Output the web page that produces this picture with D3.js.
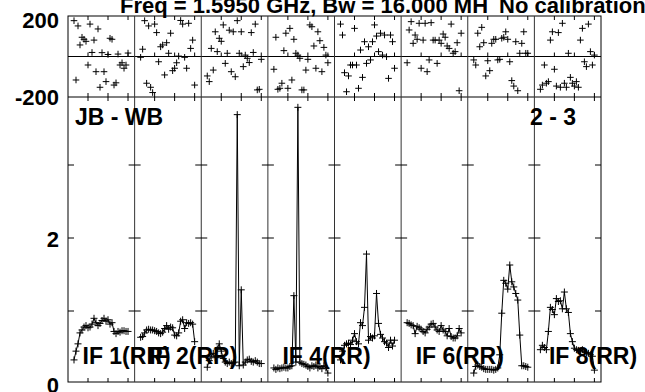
<!DOCTYPE html>
<html><head><meta charset="utf-8">
<script src="https://cdn.jsdelivr.net/npm/d3@7"></script>
<style>html,body{margin:0;padding:0;background:#fff;overflow:hidden}svg{display:block}</style>
</head><body><svg id="c" width="645" height="392"></svg>
<script>
// ---- data ----
const channels = [3,4,5,6,7,8,9,10,11,12,13,14,15,16,17,18,19,20,21,22,23,24,25,26,27,28,29,30];
const ifLabels = ["IF 1(RR)","IF 2(RR)","IF 3(RR)","IF 4(RR)","IF 5(RR)","IF 6(RR)","IF 7(RR)","IF 8(RR)"];
const ifLabelShown = [true,true,false,true,false,true,false,true];
const titleLeft = "Freq = 1.5950 GHz, Bw = 16.000 MH";
const titleRight = "No calibration";
const baselineLabel = "JB - WB";
const antennaLabel = "2 - 3";
const phaseTickLabels = [200, -200];
const ampTicks = [1, 2, 3];
const ampTickLabels = [0, 2];
const chanTicks = [10, 20, 30];

const phaseIF1 = [177,-116,151,57,95,85,75,-42,160,20,81,-75,136,-152,19,-75,-124,10,90,85,-141,-130,12,-42,-31,-58,-42,17];
const phaseIF2 = [-4,36,177,-132,151,-152,-178,160,118,-26,48,57,-91,68,16,115,-70,-58,-31,2,178,160,-4,-58,164,40,81,-141];
const phaseIF3 = [-96,-124,40,-67,122,24,90,75,156,-34,16,130,-75,122,-100,177,16,122,-50,7,-9,-30,118,20,160,-165,-162,-14];
const phaseIF4 = [-63,95,-162,-157,-132,29,115,-157,139,-116,85,16,7,-9,-165,-165,-67,-14,156,147,52,-58,122,78,-75,45,7,-31];
const phaseIF5 = [160,106,-80,-174,-96,-42,-42,139,-42,-157,32,-103,73,-34,48,-17,73,156,101,24,115,7,106,-1,-108,106,73,-58];
const phaseIF6 = [-31,131,172,65,106,85,164,-58,81,164,-75,-17,167,81,81,-34,81,65,111,95,52,40,160,16,24,68,-169,115];
const phaseIF7 = [-17,-42,115,48,144,68,-96,-21,-70,65,85,85,-17,-14,90,95,122,85,-26,-119,-146,73,-169,16,65,122,16,16];
const phaseIF8 = [-162,-141,-42,-132,-124,81,122,-63,-146,118,-152,164,-132,-152,16,-103,-132,-146,-124,-152,81,139,-26,-50,160,24,-42,7];

const ampIF1 = [0.33,0.45,0.55,0.70,0.74,0.78,0.80,0.77,0.78,0.82,0.90,0.84,0.80,0.83,0.87,0.90,0.86,0.88,0.82,0.84,0.72,0.69,0.72,0.71,0.73,0.73,0.72,0.72];
const ampIF2 = [0.64,0.65,0.70,0.74,0.75,0.74,0.74,0.73,0.72,0.70,0.69,0.71,0.76,0.80,0.75,0.78,0.77,0.67,0.66,0.70,0.86,0.88,0.76,0.84,0.83,0.84,0.82,0.58];
const ampIF3 = [0.23,0.32,0.38,0.42,0.36,0.48,0.55,0.45,0.35,0.30,0.28,0.30,0.28,0.29,0.30,3.69,0.25,1.29,0.26,0.30,0.33,0.34,0.31,0.30,0.32,0.30,0.28,0.28];
const ampIF4 = [0.22,0.20,0.22,0.21,0.22,0.23,0.22,0.22,0.24,0.25,1.21,0.30,3.79,0.30,0.28,0.27,0.26,0.24,0.22,0.25,0.24,0.26,0.22,0.24,0.21,0.25,0.22,0.15];
const ampIF5 = [0.33,0.45,0.53,0.55,0.56,0.54,0.60,0.69,0.58,0.55,0.84,0.80,1.05,1.78,0.60,0.65,0.63,0.66,1.24,0.83,0.68,0.63,0.58,0.56,0.50,0.60,0.52,0.60];
const ampIF6 = [0.84,0.83,0.81,0.80,0.69,0.79,0.77,0.75,0.72,0.70,0.75,0.78,0.82,0.83,0.78,0.74,0.72,0.80,0.74,0.72,0.66,0.76,0.65,0.63,0.63,0.66,0.76,0.70];
const ampIF7 = [0.15,0.24,0.26,0.24,0.23,0.21,0.20,0.20,0.20,0.20,0.19,0.20,0.22,0.40,0.97,1.42,1.38,1.30,1.63,1.40,1.33,1.24,1.15,0.67,0.25,0.25,0.24,0.23];
const ampIF8 = [0.47,0.53,0.50,0.47,0.72,1.05,1.02,0.95,1.17,1.13,1.14,1.03,1.26,1.03,0.98,0.69,0.58,0.49,0.47,0.46,0.45,0.47,0.44,0.43,0.42,0.40,0.38,0.19];

const phases = [phaseIF1,phaseIF2,phaseIF3,phaseIF4,phaseIF5,phaseIF6,phaseIF7,phaseIF8];
const amps = [ampIF1,ampIF2,ampIF3,ampIF4,ampIF5,ampIF6,ampIF7,ampIF8];

// ---- layout ----
const svg = d3.select("#c");
const L = 68, R = 601, T = 16, MID = 97, B = 382;
const FONT = "'Liberation Sans', Arial, Helvetica, sans-serif";
const panelX = d3.scaleLinear().domain([0, 8]).range([L, R]);
const phaseY = d3.scaleLinear().domain([-200, 200]).range([MID, T]);
const ampY = d3.scaleLinear().domain([0, 3]).range([384, 165]);
const chanX = i => d3.scaleLinear().domain([0, 33.3]).range([panelX(i), panelX(i + 1)]);

const g = svg.append("g");
const plus = (sel, pts, s) => {
  sel.selectAll(null).data(pts).join("path")
    .attr("d", d => `M${d[0]-s},${d[1]}H${d[0]+s}M${d[0]},${d[1]-s}V${d[1]+s}`)
    .attr("stroke", "#000").attr("stroke-width", 1).attr("fill", "none");
};

for (let i = 0; i < 8; i++) {
  const x = chanX(i);
  const pg = g.append("g");
  const pp = phases[i].map((v, k) => [x(channels[k]), phaseY(v)]);
  plus(pg, pp, 3.3);
  const ap = amps[i].map((v, k) => [x(channels[k]), ampY(v)]);
  pg.append("path").attr("d", d3.line()(ap)).attr("fill", "none").attr("stroke", "#000").attr("stroke-width", 1);
  plus(pg, ap, 3.5);
}

// frames
const fr = svg.append("g").attr("stroke", "#000").attr("stroke-width", 1).attr("fill", "none");
fr.append("rect").attr("x", L).attr("y", T).attr("width", R - L).attr("height", B - T);
fr.append("line").attr("x1", L).attr("x2", R).attr("y1", MID).attr("y2", MID);
fr.append("line").attr("x1", L).attr("x2", R).attr("y1", phaseY(0)).attr("y2", phaseY(0));
for (let i = 1; i < 8; i++) {
  fr.append("line").attr("x1", panelX(i)).attr("x2", panelX(i)).attr("y1", T).attr("y2", B).attr("stroke", "#333");
}
for (let i = 0; i < 8; i++) {
  const x = chanX(i);
  chanTicks.forEach(c => {
    const xx = x(c);
    fr.append("line").attr("x1", xx).attr("x2", xx).attr("y1", T).attr("y2", T + 4);
    fr.append("line").attr("x1", xx).attr("x2", xx).attr("y1", phaseY(0) - 4).attr("y2", phaseY(0));
    fr.append("line").attr("x1", xx).attr("x2", xx).attr("y1", MID - 4).attr("y2", MID + 4);
    fr.append("line").attr("x1", xx).attr("x2", xx).attr("y1", B - 4).attr("y2", B);
  });
}
for (let i = 0; i <= 8; i++) {
  const xx = panelX(i);
  ampTicks.forEach(a => {
    const yy = ampY(a);
    const x1 = i === 0 ? xx : xx - 6;
    const x2 = i === 8 ? xx : xx + 6;
    fr.append("line").attr("x1", x1).attr("x2", x2).attr("y1", yy).attr("y2", yy);
  });
}

// texts
const tx = svg.append("g").attr("font-family", FONT).attr("font-weight", "bold").attr("fill", "#000");
tx.append("text").attr("x", 120).attr("y", 13).attr("font-size", 22).text(titleLeft);
tx.append("text").attr("x", 499).attr("y", 13).attr("font-size", 22).text(titleRight);
tx.append("text").attr("x", 59).attr("y", phaseY(phaseTickLabels[0]) + 12).attr("text-anchor", "end").attr("font-size", 22).text(phaseTickLabels[0]);
tx.append("text").attr("x", 59).attr("y", phaseY(phaseTickLabels[1]) + 8).attr("text-anchor", "end").attr("font-size", 22).text(phaseTickLabels[1]);
ampTickLabels.forEach(a => {
  tx.append("text").attr("x", 59).attr("y", ampY(a) + 9).attr("text-anchor", "end").attr("font-size", 22).text(a);
});
tx.append("text").attr("x", 75).attr("y", 125).attr("font-size", 23).text(baselineLabel);
tx.append("text").attr("x", 530).attr("y", 125).attr("font-size", 23).text(antennaLabel);
ifLabels.forEach((t, i) => {
  if (!ifLabelShown[i]) return;
  tx.append("text").attr("x", panelX(i) + 14.5).attr("y", 364).attr("font-size", 23).text(t);
});
</script></body></html>
